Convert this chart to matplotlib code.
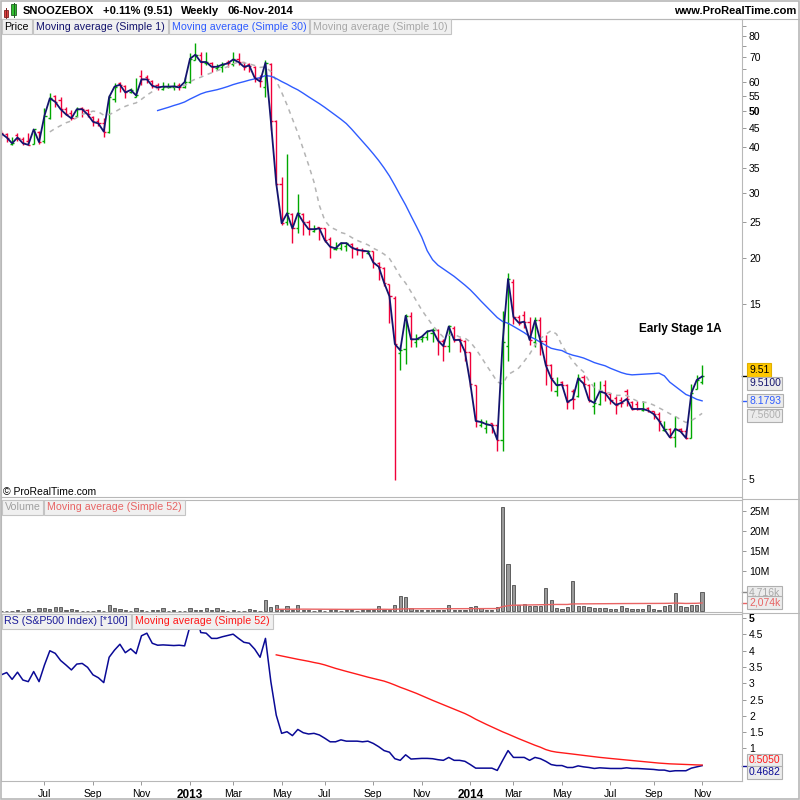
import numpy as np
import pandas as pd
import matplotlib
matplotlib.use("Agg")
import matplotlib.pyplot as plt
from matplotlib.patches import Rectangle
from matplotlib.lines import Line2D

plt.rcParams['font.family'] = ['Liberation Sans', 'DejaVu Sans']

# Weekly bars, first week 7 May 2012, last week 3 Nov 2014
weeks = pd.date_range("2012-05-07", periods=131, freq="W-MON")

opens = [44.0, 43.3, 40.6, 43.0, 42.0, 41.5, 40.8, 44.0, 41.5, 48.0,
         55.0, 53.5, 50.8, 49.5, 48.5, 51.0, 50.4, 48.3, 47.0, 46.5,
         44.0, 54.0, 59.5, 58.5, 56.5, 54.8, 62.5, 62.0, 60.5, 58.8,
         57.5, 58.0, 58.0, 58.8, 58.0, 60.0, 69.0, 71.0, 67.5, 67.5,
         65.5, 65.8, 68.0, 67.0, 69.5, 68.0, 67.0, 66.0, 61.5, 58.0,
         67.0, 47.0, 31.8, 25.0, 26.3, 24.0, 26.3, 25.0, 23.6, 24.2,
         24.0, 22.5, 21.05, 21.2, 21.5, 21.8, 21.3, 21.0, 20.6, 20.8,
         19.4, 18.8, 17.0, 15.5, 11.0, 11.3, 13.9, 11.8, 12.0, 12.2,
         12.5, 12.7, 11.9, 11.5, 12.9, 12.05, 11.9, 11.1, 9.0, 7.0,
         6.9, 7.1, 7.0, 6.4, 11.5, 17.2, 13.8, 14.0, 13.4, 11.8,
         13.5, 11.9, 10.2, 8.7, 9.2, 9.0, 8.7, 8.4, 9.5, 9.0,
         7.9, 8.0, 9.0, 8.5, 8.3, 8.2, 8.7, 8.1, 8.0, 7.7,
         7.8, 7.65, 7.5, 6.8, 6.85, 6.5, 6.85, 6.75, 6.47, 8.8,
         9.2]
highs = [44.5, 43.5, 42.6, 43.5, 42.5, 43.5, 44.8, 44.2, 50.9, 55.9,
         55.3, 54.5, 51.2, 50.4, 51.4, 51.2, 50.6, 48.5, 47.8, 47.8,
         55.3, 59.5, 59.9, 58.8, 57.7, 61.4, 64.5, 62.7, 60.8, 59.5,
         60.1, 59.5, 60.1, 59.5, 62.0, 71.8, 76.4, 72.5, 72.5, 68.1,
         67.0, 68.1, 68.9, 72.5, 71.8, 68.1, 67.5, 66.2, 62.7, 68.9,
         67.6, 47.3, 33.1, 38.3, 26.4, 29.7, 26.4, 25.3, 24.6, 24.3,
         24.1, 22.8, 22.1, 22.1, 22.0, 21.9, 21.4, 21.2, 21.0, 20.9,
         19.5, 18.9, 17.0, 15.7, 11.6, 14.1, 14.2, 12.4, 12.3, 12.7,
         12.9, 12.8, 12.0, 13.1, 13.0, 12.1, 11.95, 11.1, 9.0, 7.3,
         7.25, 7.1, 7.0, 14.3, 18.2, 17.5, 14.0, 14.3, 13.8, 13.8,
         13.8, 12.3, 10.3, 9.5, 9.23, 9.1, 8.8, 9.68, 9.58, 9.1,
         9.19, 9.23, 9.29, 8.6, 8.43, 8.35, 8.8, 8.18, 8.18, 8.18,
         7.84, 7.68, 7.6, 7.21, 6.91, 7.44, 6.91, 6.83, 9.1, 9.58,
         10.2]
lows = [42.2, 41.3, 40.5, 41.5, 40.5, 40.4, 40.7, 40.7, 41.0, 47.5,
        51.2, 48.3, 48.8, 47.3, 48.3, 48.3, 48.3, 45.6, 45.5, 42.5,
        43.5, 53.0, 56.5, 54.2, 55.9, 54.5, 58.9, 59.5, 57.7, 57.1,
        57.1, 57.7, 57.1, 57.1, 57.7, 59.5, 68.9, 62.7, 66.7, 64.0,
        64.7, 64.0, 66.0, 66.5, 66.7, 64.7, 64.0, 60.1, 58.3, 54.7,
        44.4, 31.5, 24.6, 24.6, 21.9, 23.3, 23.0, 23.1, 23.5, 22.3,
        22.0, 20.0, 21.0, 21.0, 20.8, 20.0, 20.3, 20.0, 20.5, 18.8,
        17.4, 16.8, 13.3, 4.98, 9.9, 10.3, 11.4, 11.4, 11.8, 11.95,
        11.8, 10.9, 10.5, 11.1, 11.8, 11.1, 10.5, 8.9, 6.94, 6.94,
        6.66, 6.66, 5.95, 5.95, 10.5, 13.2, 13.1, 12.9, 11.6, 11.4,
        10.9, 9.0, 8.7, 8.43, 9.0, 7.76, 7.76, 8.35, 8.9, 8.09,
        7.52, 7.96, 8.18, 8.01, 7.52, 7.84, 7.92, 7.7, 7.7, 7.68,
        7.6, 7.29, 6.76, 6.76, 6.47, 6.11, 6.71, 6.43, 6.47, 8.8,
        9.1]
closes = [43.5, 42.4, 40.9, 42.4, 40.9, 40.5, 44.6, 41.2, 48.6, 54.2,
          53.0, 50.6, 49.0, 47.8, 50.6, 50.6, 49.0, 46.8, 46.3, 44.0,
          54.6, 58.3, 59.0, 56.2, 57.1, 55.2, 61.0, 61.0, 58.6, 58.0,
          58.3, 58.3, 58.4, 58.0, 60.0, 69.4, 71.2, 68.0, 68.0, 66.0,
          66.0, 66.9, 67.4, 69.1, 68.0, 66.0, 66.5, 61.6, 60.2, 67.7,
          47.0, 31.8, 24.8, 26.4, 24.0, 26.4, 25.0, 23.9, 23.9, 24.0,
          22.3, 21.4, 21.2, 21.9, 21.9, 21.3, 21.0, 20.9, 20.8, 19.4,
          18.9, 17.1, 15.7, 11.65, 11.2, 13.9, 12.0, 12.0, 12.2, 12.6,
          12.7, 11.9, 11.5, 13.0, 11.95, 11.95, 11.1, 9.1, 7.2, 7.15,
          7.05, 7.0, 6.4, 11.8, 17.5, 13.8, 13.3, 13.4, 11.95, 13.5,
          11.9, 10.2, 9.4, 9.0, 9.04, 8.1, 8.26, 9.4, 9.1, 8.2,
          8.06, 8.66, 8.57, 8.2, 7.96, 8.06, 8.26, 7.76, 7.76, 7.76,
          7.68, 7.52, 7.21, 6.83, 6.5, 6.85, 6.74, 6.47, 8.57, 9.3,
          9.51]

# volume in millions of shares
volume_m = [0.1, 0.1, 0.1, 0.25, 0.1, 0.4, 0.1, 0.67, 0.67, 0.5,
            1.1, 0.9, 0.25, 0.4, 0.25, 0.1, 0.1, 0.1, 0.25, 0.1,
            1.5, 0.67, 0.5, 0.25, 0.1, 0.67, 0.25, 0.1, 0.25, 0.25,
            0.67, 0.1, 0.25, 0.1, 0.1, 0.67, 0.25, 0.25, 0.67, 0.25,
            0.67, 0.25, 0.1, 0.25, 0.1, 0.1, 0.5, 0.25, 0.1, 2.8,
            0.9, 1.5, 0.25, 1.2, 0.25, 1.5, 0.25, 0.25, 0.1, 0.25,
            0.1, 0.25, 0.25, 0.1, 0.25, 0.25, 0.1, 0.25, 0.25, 0.25,
            1.2, 0.25, 0.25, 1.5, 3.7, 3.5, 0.67, 0.25, 0.25, 0.25,
            0.25, 0.25, 0.25, 1.6, 0.25, 0.2, 0.25, 0.9, 1.2, 0.67,
            0.25, 0.25, 0.9, 25.9, 11.7, 6.5, 1.5, 1.75, 1.25, 1.25,
            1.25, 5.7, 2.8, 0.67, 0.4, 0.9, 7.5, 1.25, 1.25, 0.9,
            0.67, 0.67, 0.67, 0.4, 0.4, 1.25, 0.67, 0.4, 0.4, 0.4,
            1.5, 0.4, 0.25, 1.25, 1.5, 4.4, 1.25, 0.9, 1.5, 1.5,
            4.716]

# relative strength vs S&P500 (x100)
rs = [3.26, 3.33, 3.12, 3.34, 3.10, 3.05, 3.36, 3.05, 3.56, 4.00,
      3.92, 3.70, 3.56, 3.41, 3.59, 3.61, 3.49, 3.26, 3.17, 3.02,
      3.80, 4.02, 4.20, 3.94, 4.06, 3.91, 4.46, 4.54, 4.23, 4.17,
      4.18, 4.17, 4.16, 4.17, 4.15, 4.76, 5.20, 4.56, 4.54, 4.38,
      4.38, 4.43, 4.47, 4.51, 4.38, 4.26, 4.23, 4.05, 3.80, 4.38,
      3.05, 2.02, 1.46, 1.51, 1.39, 1.58, 1.48, 1.44, 1.46, 1.41,
      1.31, 1.20, 1.20, 1.26, 1.22, 1.22, 1.22, 1.20, 1.22, 1.15,
      1.05, 0.93, 0.88, 0.68, 0.63, 0.80, 0.67, 0.68, 0.69, 0.69,
      0.68, 0.65, 0.63, 0.72, 0.63, 0.63, 0.60, 0.50, 0.39, 0.39,
      0.39, 0.39, 0.32, 0.63, 0.93, 0.72, 0.72, 0.72, 0.63, 0.72,
      0.68, 0.60, 0.50, 0.47, 0.47, 0.41, 0.41, 0.46, 0.43, 0.41,
      0.38, 0.40, 0.39, 0.38, 0.38, 0.38, 0.40, 0.38, 0.38, 0.37,
      0.36, 0.35, 0.33, 0.33, 0.29, 0.31, 0.31, 0.31, 0.39, 0.43,
      0.4682]

price_ticks = [5, 15, 20, 25, 30, 35, 40, 45, 50, 55, 60, 70, 80]
price_minor = [65, 75, 85]
vol_ticks = [10, 15, 20, 25]
rs_ticks = [1, 1.5, 2, 2.5, 3, 3.5, 4, 4.5, 5]

# indicators
c = pd.Series(closes)
ma30 = c.rolling(30).mean()
ma10 = c.rolling(10).mean()
vol_ma52 = pd.Series(volume_m).rolling(52).mean()
rs_ma52 = pd.Series(rs).rolling(52).mean()

x = np.arange(len(closes))
o = np.array(opens)
cl = np.array(closes)
bar_col = np.where(cl >= o, '#00a800', '#f0003a')

W = H = 800.0
fig = plt.figure(figsize=(8, 8), dpi=100)


def px_axes(x0, y0, x1, y1):
    return fig.add_axes([x0 / W, 1 - y1 / H, (x1 - x0) / W, (y1 - y0) / H])


ax_p = px_axes(1, 19, 742, 497.5)
ax_v = px_axes(1, 499.5, 742, 611.5)
ax_r = px_axes(1, 614, 742, 780.5)

for ax in (ax_p, ax_v, ax_r):
    ax.set_xlim(-0.06, 137.4)
    for s in ax.spines.values():
        s.set_color('#b8b8b8')
        s.set_linewidth(0.8)
    ax.yaxis.tick_right()
    ax.tick_params(axis='y', which='both', direction='out', length=3, width=0.6,
                   color='#888888', labelsize=7.5, pad=2)
    ax.set_facecolor('white')

# ---- price panel
ax_p.set_yscale('log')
ax_p.set_ylim(4.46, 89.0)
ax_p.vlines(x, lows, highs, colors=bar_col, lw=1.0)
ax_p.hlines(opens, x - 0.4, x, colors=bar_col, lw=1.0)
ax_p.hlines(closes, x, x + 0.4, colors=bar_col, lw=1.0)
ax_p.plot(x, ma10, color='#b4b4b4', lw=1.1, dashes=(3, 3))
ax_p.plot(x, ma30, color='#2f5cff', lw=1.0)
ax_p.plot(x, closes, color='#14146e', lw=1.3)
ax_p.set_yticks(price_ticks)
ax_p.set_yticklabels([str(v) for v in price_ticks])
ax_p.set_yticks(price_minor, minor=True)
ax_p.set_yticklabels([], minor=True)
for lab in ax_p.get_yticklabels():
    if lab.get_text() == '50':
        lab.set_fontweight('bold')
ax_p.set_xticks([])

# ---- volume panel
ax_v.set_ylim(-0.12, 27.9)
ax_v.bar(x, volume_m, width=0.6, color='#9a9a9a', edgecolor='#333333', lw=0.5)
ax_v.plot(x, vol_ma52, color='#e86464', lw=1.0)
ax_v.set_yticks(vol_ticks)
ax_v.set_yticklabels([f'{v}M' for v in vol_ticks])
ax_v.set_xticks([])

# ---- RS panel
ax_r.set_ylim(0.01, 5.13)
ax_r.plot(x, rs, color='#0a0a96', lw=1.1)
ax_r.plot(x, rs_ma52, color='#ff1a1a', lw=1.0)
ax_r.set_yticks(rs_ticks)
ax_r.set_yticklabels([f'{v:g}' for v in rs_ticks])
for lab in ax_r.get_yticklabels():
    if lab.get_text() == '5':
        lab.set_fontweight('bold')

tick_idx, tick_lab = [], []
for i in range(1, len(weeks)):
    d, p = weeks[i], weeks[i - 1]
    if d.month != p.month and d.month % 2 == 1:
        tick_idx.append(i)
        tick_lab.append(str(d.year) if d.month == 1 else d.strftime('%b'))
ax_r.set_xticks(tick_idx)
ax_r.set_xticklabels(tick_lab)
ax_r.tick_params(axis='x', direction='out', length=3, width=0.6, color='#888888',
                 labelsize=7.5, pad=3)
for lab in ax_r.get_xticklabels():
    if lab.get_text().isdigit():
        lab.set_fontweight('bold')
        lab.set_fontsize(8.5)


# ---- value tags on the right axis
def tag(ax, y, text, color, face='#ececec', edge='#b0b0b0', dy=0, tick_color=None):
    tr = ax.get_yaxis_transform()
    ax.annotate(text, xy=(1, y), xycoords=tr, xytext=(7, dy), textcoords='offset pixels',
                ha='left', va='center', fontsize=7.5, color=color, annotation_clip=False,
                bbox=dict(boxstyle='square,pad=0.15', fc=face, ec=edge, lw=0.8))
    if tick_color:
        ax.plot([1, 1.007], [y, y], transform=tr, color=tick_color, lw=1.0, clip_on=False)


tag(ax_p, 9.51, '9.51', 'black', face='#ffc800', edge='#e0b000', dy=6.5, tick_color='black')
tag(ax_p, 9.51, '9.5100', '#14146e', dy=-7)
tag(ax_p, 8.1793, '8.1793', '#2f5cff', tick_color='#2f5cff')
tag(ax_p, 7.56, '7.5600', '#b0b0b0', dy=-2)
tag(ax_v, 4.716, '4,716k', '#a8a8a8', tick_color='#888888')
tag(ax_v, 2.074, '2,074k', '#e86464', tick_color='#e86464')
tag(ax_r, 0.505, '0.5050', '#ff1a1a', dy=4)
tag(ax_r, 0.4682, '0.4682', '#0a0a96', dy=-6.5, tick_color='#0a0a96')

# ---- legend boxes
renderer = fig.canvas.get_renderer()


def legend_row(top, items):
    xp = 1.5
    for label, color in items:
        t = fig.text((xp + 3) / W, 1 - (top + 7.5) / H, label, color=color, fontsize=7.7,
                     va='center', ha='left', zorder=5)
        w = t.get_window_extent(renderer).width
        fig.add_artist(Rectangle((xp / W, 1 - (top + 14.5) / H), (w + 6) / W, 14.5 / H,
                                 transform=fig.transFigure, fc='#f0f0f0', ec='#c4c4c4',
                                 lw=0.8, zorder=4))
        xp += w + 7


legend_row(19, [('Price', 'black'), ('Moving average (Simple 1)', '#14146e'),
                ('Moving average (Simple 30)', '#2f5cff'), ('Moving average (Simple 10)', '#a8a8a8')])
legend_row(500, [('Volume', '#a0a0a0'), ('Moving average (Simple 52)', '#e86464')])
legend_row(614, [('RS (S&P500 Index) [*100]', '#1a1a99'), ('Moving average (Simple 52)', '#ff1a1a')])

# ---- header
fig.text(23 / W, 1 - 10.5 / H, 'SNOOZEBOX', fontsize=8, fontweight='bold', va='center')
fig.text(103 / W, 1 - 10.5 / H, '+0.11% (9.51)', fontsize=8, fontweight='bold', va='center')
fig.text(181 / W, 1 - 10.5 / H, 'Weekly', fontsize=8, fontweight='bold', va='center')
fig.text(227 / W, 1 - 10.5 / H, '06-Nov-2014', fontsize=8, fontweight='bold', va='center')
fig.text(796 / W, 1 - 10.5 / H, 'www.ProRealTime.com', fontsize=8, fontweight='bold',
         va='center', ha='right')
# small candle icon
fig.add_artist(Line2D([5.8 / W, 5.8 / W], [1 - 18 / H, 1 - 8 / H], color='#802020', lw=0.7))
fig.add_artist(Rectangle((3.5 / W, 1 - 16.5 / H), 4.8 / W, 6.5 / H, transform=fig.transFigure,
                         fc='#e04040', ec='#802020', lw=0.6))
fig.add_artist(Line2D([13.5 / W, 13.5 / W], [1 - 17 / H, 1 - 3 / H], color='#206020', lw=0.7))
fig.add_artist(Rectangle((11.2 / W, 1 - 15 / H), 4.8 / W, 10.5 / H, transform=fig.transFigure,
                         fc='#30c030', ec='#206020', lw=0.6))

# frame and separators
fig.add_artist(Line2D([0, 1], [1 - 18.5 / H, 1 - 18.5 / H], color='#b8b8b8', lw=0.8))
fig.add_artist(Line2D([742 / W, 1], [1 - 498.5 / H, 1 - 498.5 / H], color='#b8b8b8', lw=0.8))
fig.add_artist(Line2D([742 / W, 1], [1 - 612.8 / H, 1 - 612.8 / H], color='#b8b8b8', lw=0.8))
fig.add_artist(Rectangle((0.001, 0.001), 0.998, 0.998, transform=fig.transFigure, fill=False,
                         ec='#b8b8b8', lw=1.2))

fig.text(3 / W, 1 - 492 / H, '\u00a9 ProRealTime.com', fontsize=7.5, va='center')
fig.text(680 / W, 1 - 329 / H, 'Early Stage 1A', fontsize=8.5, fontweight='bold',
         ha='center', va='center')

fig.savefig('out.png', dpi=100)
